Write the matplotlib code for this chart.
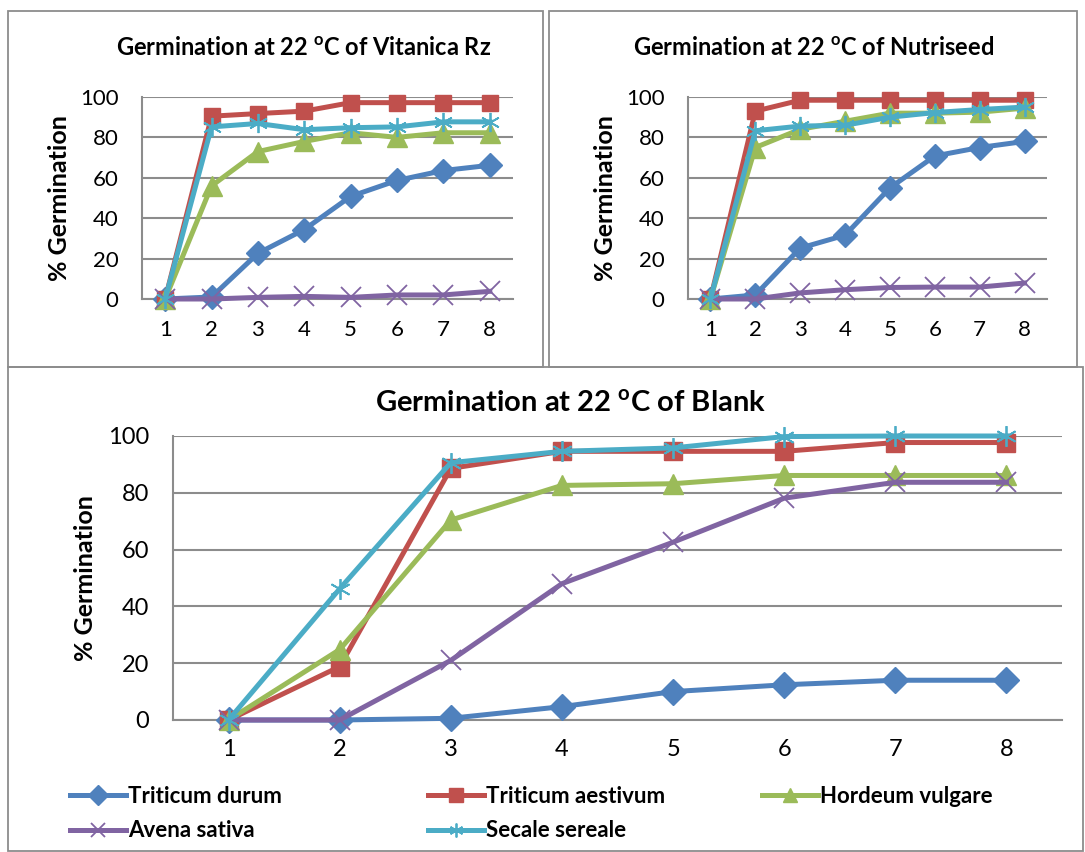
import matplotlib.pyplot as plt
from matplotlib.patches import Rectangle
from matplotlib.lines import Line2D

plt.rcParams['font.family'] = ['Lato', 'DejaVu Sans']

# Данные
days = [1, 2, 3, 4, 5, 6, 7, 8]
species = ['Triticum durum', 'Triticum aestivum', 'Hordeum vulgare',
           'Avena sativa', 'Secale sereale']

vitanica_durum = [0, 1, 22.6, 34.4, 50.8, 58.7, 63.6, 66.2]
vitanica_aestivum = [0, 90.5, 91.8, 93.0, 97.2, 97.2, 97.2, 97.2]
vitanica_hordeum = [0, 56, 73, 78, 82.3, 80, 82.3, 82.3]
vitanica_avena = [0, 0, 0.8, 1.3, 0.8, 2, 2, 3.8]
vitanica_secale = [0, 85.2, 86.9, 83.8, 84.8, 85.2, 87.7, 87.7]

nutri_durum = [0, 2, 25.2, 31.6, 55, 70.8, 75, 78]
nutri_aestivum = [0, 93, 98.4, 98.4, 98.4, 98.4, 98.4, 98.4]
nutri_hordeum = [0, 75, 84, 88, 92, 92, 92.5, 94.5]
nutri_avena = [0, 0, 3, 4.6, 5.7, 5.9, 5.9, 7.9]
nutri_secale = [0, 83.3, 85.6, 86, 90, 92.3, 93.8, 95]

blank_durum = [0, 0, 0.6, 4.7, 10, 12.4, 14, 14]
blank_aestivum = [0, 18.8, 88.6, 94.6, 94.6, 94.6, 97.7, 97.7]
blank_hordeum = [0, 24.8, 70.4, 82.6, 83.2, 86.1, 86.1, 86.1]
blank_avena = [0, 0, 21, 48, 62.6, 78.1, 83.7, 83.7]
blank_secale = [0, 46.2, 90.6, 94.6, 95.8, 99.8, 100, 100]

colors = ['#4F81BD', '#C0504D', '#9BBB59', '#8064A2', '#4BACC6']
markers = ['D', 's', '^', 'x', (6, 2, 0)]
grid_color = '#8C8C8C'

W, H = 1085, 852
fig = plt.figure(figsize=(W / 100, H / 100), dpi=100)


def box(px):
    # px: left, top, right, bottom в пикселях
    l, t, r, b = px
    return [l / W, 1 - b / H, (r - l) / W, (b - t) / H]


# рамки панелей
for l, t, r, b in [(8, 11, 543, 367), (549, 11, 1077, 367), (8, 367, 1083, 851)]:
    fig.patches.append(Rectangle((l / W, 1 - b / H), (r - l) / W, (b - t) / H,
                                 transform=fig.transFigure, fill=False,
                                 edgecolor='#8C8C8C', lw=1.3))


def draw(ax, series, title, title_x, big=False):
    ms = 13 if big else 12
    for i, ys in enumerate(series):
        filled = markers[i] in ('D', 's', '^')
        size = ms
        if markers[i] == '^':
            size = ms * 1.15
        ax.plot(days, ys, color=colors[i], lw=3.6, marker=markers[i],
                markersize=size if filled else ms * 1.15,
                markeredgewidth=1 if filled else 1.3,
                markerfacecolor=colors[i], markeredgecolor=colors[i],
                clip_on=False, zorder=3 + i)
    ax.set_xlim(0.5, 8.5)
    ax.set_ylim(0, 100)
    ax.set_yticks(range(0, 101, 20))
    ax.set_xticks(days)
    ax.yaxis.grid(True, color=grid_color, lw=1.5)
    ax.set_axisbelow(True)
    for s in ['top', 'right']:
        ax.spines[s].set_visible(False)
    for s in ['left', 'bottom']:
        ax.spines[s].set_color(grid_color)
        ax.spines[s].set_linewidth(1.5)
    fs = 17 if big else 16
    ax.tick_params(axis='y', length=0, pad=17, labelsize=fs)
    ax.tick_params(axis='x', length=0, pad=14 if big else 15, labelsize=fs)
    ax.set_ylabel('% Germination', fontsize=18,
                  fontweight='bold', labelpad=8 if big else 6)
    ax.set_title(title, fontsize=21 if big else 17, fontweight='bold',
                 pad=18 if big else 30, x=title_x)


ax1 = fig.add_axes(box((142, 97, 513, 299)))
draw(ax1, [vitanica_durum, vitanica_aestivum, vitanica_hordeum,
           vitanica_avena, vitanica_secale],
     'Germination at 22 $^{\\mathregular{o}}$C of Vitanica Rz', 0.437)

ax2 = fig.add_axes(box((688, 97, 1047, 299)))
draw(ax2, [nutri_durum, nutri_aestivum, nutri_hordeum,
           nutri_avena, nutri_secale],
     'Germination at 22 $^{\\mathregular{o}}$C of Nutriseed', 0.35)

ax3 = fig.add_axes(box((173, 436, 1062, 720)))
draw(ax3, [blank_durum, blank_aestivum, blank_hordeum,
           blank_avena, blank_secale],
     'Germination at 22 $^{\\mathregular{o}}$C of Blank', 0.447, big=True)

# легенда: три колонки отдельно
handles = []
for i in range(5):
    filled = markers[i] in ('D', 's', '^')
    handles.append(Line2D([], [], color=colors[i], lw=3.6, marker=markers[i],
                          markersize=10, markeredgewidth=1 if filled else 1.3,
                          markerfacecolor=colors[i], markeredgecolor=colors[i]))

cols = [(70, [0, 3]), (428, [1, 4]), (762, [2])]
for x, idx in cols:
    fig.legend([handles[k] for k in idx], [species[k] for k in idx],
               loc='upper left', bbox_to_anchor=(x / W, 1 - 786 / H),
               frameon=False, handlelength=2.5, handletextpad=0.1,
               labelspacing=0.6, borderpad=0, borderaxespad=0,
               prop={'weight': 'bold', 'size': 16})

fig.savefig('out.png', dpi=100)
